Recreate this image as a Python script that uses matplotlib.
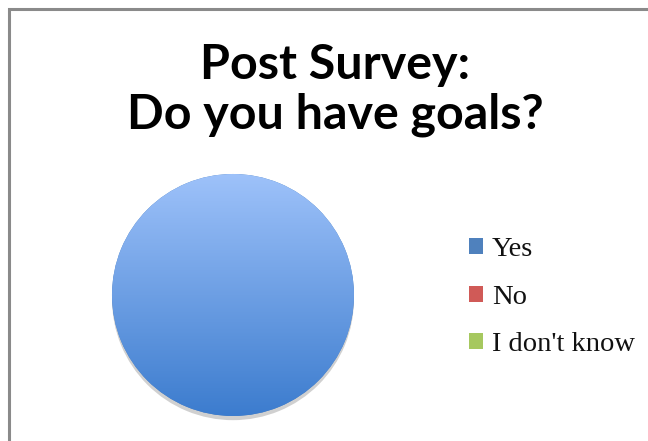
import numpy as np
import matplotlib
matplotlib.use("Agg")
import matplotlib.pyplot as plt
import matplotlib.patheffects as pe
from matplotlib.patches import Rectangle, Patch
from matplotlib.colors import LinearSegmentedColormap

labels = ["Yes", "No", "I don't know"]
values = [100, 0, 0]
colors = ["#4F81BD", "#D05A57", "#A6C85F"]
title = "Post Survey:\nDo you have goals?"


def main():
    fig = plt.figure(figsize=(6.48, 4.41), dpi=100)
    fig.patch.set_facecolor("white")

    # chart frame (runs off the right and bottom edge like the source)
    fig.patches.append(Rectangle((8.5 / 648, -0.1), 1.2, 1.1 - 8.5 / 441,
                                 transform=fig.transFigure, fill=False,
                                 edgecolor="#8a8a8a", linewidth=2.2))

    fig.text(0.517, 0.796, title, ha="center", va="center",
             fontsize=34.8, fontweight="bold", family="Lato",
             linespacing=1.15, color="black")

    ax = fig.add_axes([0.1728, 0.0567, 0.3735, 0.5488])
    wedges, _ = ax.pie(values, colors=colors, startangle=90,
                       counterclock=False, radius=1.0)
    ax.set_xlim(-1.0, 1.0)
    ax.set_ylim(-1.0, 1.0)
    ax.set_aspect("equal")
    ax.axis("off")

    # soft shadow + vertical gradient on the wedges
    grad = LinearSegmentedColormap.from_list("blue", ["#3C7CCE", "#9EC2FA"])
    for w, v in zip(wedges, values):
        if v <= 0:
            continue
        w.set_path_effects([
            pe.SimplePatchShadow(offset=(0, -3), alpha=0.25, shadow_rgbFace="#444444"),
            pe.Normal(),
        ])
        y = np.linspace(0, 1, 256).reshape(-1, 1)
        im = ax.imshow(y, cmap=grad, extent=(-1, 1, -1, 1), origin="lower",
                       aspect="auto", zorder=w.get_zorder() + 0.1)
        im.set_clip_path(w)
        im.set_clip_on(True)

    handles = [Patch(facecolor=c, edgecolor="none") for c in colors]
    leg = fig.legend(handles, labels, loc="center left",
                     bbox_to_anchor=(0.724, 0.326), frameon=False,
                     prop={"family": "Liberation Serif", "size": 20.5},
                     handlelength=0.5, handleheight=0.5, handletextpad=0.3,
                     labelspacing=0.79, borderpad=0, borderaxespad=0)
    for t in leg.get_texts():
        t.set_color("#111111")

    fig.savefig("out.png", dpi=100, facecolor="white")


if __name__ == "__main__":
    main()
